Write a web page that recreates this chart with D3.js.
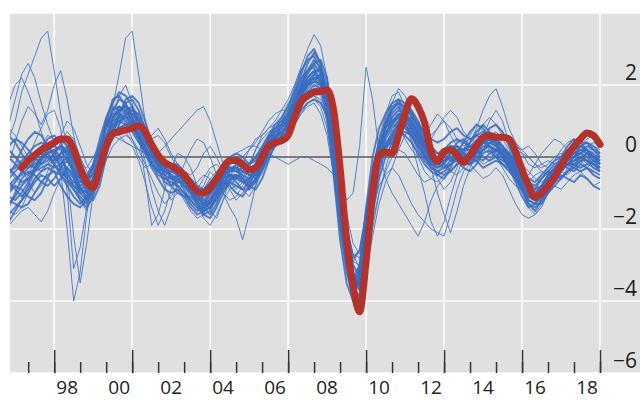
<!DOCTYPE html>
<html><head><meta charset="utf-8">
<script src="https://cdn.jsdelivr.net/npm/d3@7"></script>
<style>html,body{margin:0;padding:0;background:#fff;}svg{display:block;}</style>
</head><body>
<svg id="c" width="640" height="400"></svg>
<script>
// quarterly series, blue start 1996.25, red start 1996.75
const blueStart = 1996.25;
const redStart = 1996.75;
const red = [-0.3, -0.1,0.05,0.2,0.3, 0.4,0.5,0.5,0.2, -0.3,-0.7,-0.85,-0.3, 0.3,0.65,0.7,0.75, 0.8,0.86,0.7,0.35, 0.05,-0.15,-0.25,-0.36, -0.5,-0.75,-0.95,-1.0, -0.85,-0.6,-0.3,-0.1, -0.1,-0.2,-0.35,-0.3, 0.0,0.3,0.4,0.45, 0.6,1.1,1.55,1.7, 1.8,1.82,1.86,1.3, -0.3,-2.3,-3.6,-4.3, -2.9,-1.0,0.05,0.14, 0.1,0.6,1.2,1.62, 1.4,0.95,0.15,-0.12, 0.15,0.2,0.05,-0.15, 0.05,0.33,0.55,0.6, 0.55,0.55,0.5,0.15, -0.35,-0.8,-1.12,-1.0, -0.8,-0.55,-0.25,0.05, 0.3,0.5,0.67,0.6, 0.35];

const c01 = [-0.9,-0.7,-0.4, -0.2,0.0,0.1,0.0, -0.1,0.1,0.2,-0.2, -0.6,-0.9,-0.8,-0.1, 0.5,1.0,1.3,1.4, 1.2,0.9,0.5,0.1, -0.2,-0.4,-0.5,-0.6, -0.8,-1.0,-1.2,-1.1, -0.9,-0.6,-0.4,-0.3, -0.4,-0.5,-0.6,-0.4, -0.1,0.2,0.4,0.6, 0.9,1.4,1.9,2.3, 2.6,2.7,2.2,0.8, -1.0,-2.6,-3.5,-3.2, -1.6,-0.3,0.4,0.7, 0.9,1.1,1.3,1.2, 0.8,0.4,0.1,-0.1, 0.0,0.2,0.3,0.2, 0.4,0.6,0.5,0.3, 0.2,0.1,-0.1,-0.4, -0.7,-1.0,-1.1,-0.8, -0.5,-0.3,-0.1,0.0, 0.1,0.2,0.1,-0.1, -0.2];
const c02 = [-1.3,-1.1,-0.8, -0.6,-0.4,-0.3,-0.2, -0.3,-0.2,0.0,-0.4, -0.9,-1.1,-0.7,0.1, 0.8,1.3,1.6,1.5, 1.1,0.6,0.2,-0.2, -0.5,-0.6,-0.7,-0.8, -1.0,-1.3,-1.5,-1.3, -1.0,-0.8,-0.6,-0.5, -0.7,-0.9,-0.7,-0.3, 0.1,0.4,0.7,0.9, 1.2,1.6,2.1,2.6, 2.9,2.6,1.6,0.2, -1.4,-2.9,-3.8,-3.4, -2.0,-0.6,0.3,0.6, 1.0,1.2,1.0,0.8, 0.5,0.2,-0.1,-0.3, -0.2,0.1,0.4,0.5, 0.3,0.1,0.2,0.4, 0.5,0.3,0.0,-0.3, -0.6,-0.9,-1.2,-1.0, -0.7,-0.4,-0.2,-0.3, -0.4,-0.2,-0.3,-0.5, -0.6];
const c03 = [0.3,0.5,0.4, 0.2,0.0,-0.2,-0.1, 0.1,0.3,0.1,-0.3, -0.8,-1.2,-1.0,-0.4, 0.2,0.7,1.1,1.3, 1.4,1.1,0.7,0.3, 0.0,-0.3,-0.2,-0.4, -0.7,-0.9,-1.0,-1.2, -1.3,-1.0,-0.6,-0.2, 0.0,-0.2,-0.5,-0.6, -0.3,0.1,0.5,0.7, 0.8,1.2,1.6,1.9, 2.1,2.3,2.0,1.0, -0.6,-2.2,-3.2,-3.6, -2.4,-0.8,0.2,0.8, 1.2,1.4,1.1,0.7, 0.4,0.3,0.1,0.0, -0.2,-0.4,-0.2,0.1, 0.4,0.7,0.9,0.7, 0.4,0.0,-0.3,-0.5, -0.8,-1.1,-0.9,-0.6, -0.4,-0.5,-0.6,-0.4, -0.2,0.0,-0.1,-0.3, -0.4];
const c04 = [-1.6,-1.4,-1.2, -1.0,-0.7,-0.5,-0.6, -0.8,-0.6,-0.3,-0.5, -0.7,-0.6,-0.3,0.3, 0.9,1.2,1.2,1.0, 0.8,0.5,0.1,-0.3, -0.6,-0.9,-1.0,-0.9, -1.1,-1.4,-1.6,-1.5, -1.2,-0.9,-0.7,-0.8, -1.0,-1.1,-0.8,-0.4, 0.0,0.5,0.8,1.0, 1.3,1.8,2.2,2.4, 2.5,2.0,1.0,-0.4, -2.0,-3.2,-3.9,-3.0, -1.5,-0.5,0.1,0.3, 0.5,0.7,0.6,0.4, 0.1,-0.2,-0.4,-0.5, -0.4,-0.2,-0.1,-0.3, -0.4,-0.2,0.1,0.2, 0.0,-0.2,-0.4,-0.6, -0.9,-1.3,-1.4,-1.2, -0.9,-0.7,-0.5,-0.6, -0.7,-0.5,-0.6,-0.8, -0.9];
const c05 = [0.0,-0.2,-0.4, -0.5,-0.3,0.0,0.2, 0.3,0.2,-0.1,-0.4, -0.6,-0.5,-0.2,0.2, 0.6,0.9,1.0,0.9, 0.7,0.4,0.2,0.0, -0.2,-0.3,-0.3,-0.4, -0.5,-0.6,-0.8,-0.9, -0.7,-0.5,-0.4,-0.5, -0.6,-0.4,-0.2,0.0, 0.2,0.3,0.4,0.5, 0.7,1.0,1.3,1.5, 1.6,1.5,1.2,0.5, -0.8,-2.0,-2.8,-2.6, -1.6,-0.7,0.0,0.4, 0.6,0.8,0.9,0.7, 0.5,0.2,0.0,-0.2, -0.1,0.0,0.1,0.0, 0.1,0.3,0.4,0.3, 0.1,-0.1,-0.2,-0.3, -0.5,-0.7,-0.8,-0.6, -0.4,-0.2,-0.1,0.1, 0.2,0.3,0.2,0.0, -0.1];
const c06 = [-0.5,-0.2,0.2, 0.5,0.7,0.6,0.3, 0.0,-0.3,-0.6,-0.9, -1.1,-1.3,-0.9,0.0, 1.0,1.6,1.7,1.4, 1.0,0.6,0.2,-0.2, -0.4,-0.3,-0.5,-0.8, -1.0,-1.2,-1.4,-1.6, -1.5,-1.1,-0.6,-0.3, -0.3,-0.6,-0.9,-0.7, -0.2,0.3,0.6,0.8, 1.1,1.7,2.3,2.8, 3.0,2.6,1.5,-0.5, -2.3,-3.5,-4.0,-3.2, -1.4,0.0,0.8,1.2, 1.5,1.6,1.3,0.9, 0.6,0.3,-0.1,-0.5, -0.6,-0.3,0.1,0.4, 0.7,0.9,0.8,0.5, 0.3,0.2,0.0,-0.4, -0.9,-1.3,-1.5,-1.2, -0.8,-0.4,0.0,0.3, 0.5,0.4,0.2,0.0, -0.2];
const c07 = [-1.0,-0.8,-0.9, -1.1,-1.2,-1.0,-0.6, -0.2,0.1,0.3,0.0, -0.4,-0.6,-0.5,-0.1, 0.4,0.8,1.0,1.1, 1.1,0.8,0.4,0.1, -0.1,-0.3,-0.6,-0.7, -0.7,-0.8,-1.0,-1.4, -1.6,-1.3,-0.8,-0.4, -0.2,-0.3,-0.4,-0.2, 0.1,0.4,0.6,0.7, 0.9,1.3,1.8,2.1, 2.2,2.0,1.6,0.6, -1.1,-2.7,-3.4,-3.0, -1.9,-0.9,-0.1,0.3, 0.6,1.0,1.4,1.3, 1.0,0.6,0.3,0.1, 0.0,-0.1,0.0,0.2, 0.3,0.2,0.0,-0.1, 0.0,0.2,0.1,-0.2, -0.5,-0.9,-1.0,-0.9, -0.7,-0.6,-0.4,-0.2, 0.0,0.1,0.3,0.2, 0.1];
const c08 = [-1.8,-1.5,-1.2, -0.8,-0.4,-0.1,0.1, 0.2,0.0,-0.4,-0.8, -1.0,-0.9,-0.6,-0.2, 0.3,0.7,1.0,1.2, 1.3,1.2,0.8,0.3, -0.1,-0.5,-0.8,-1.0, -1.1,-1.1,-1.3,-1.5, -1.4,-1.1,-0.9,-0.7, -0.8,-0.9,-0.9,-0.6, -0.3,0.1,0.5,0.9, 1.2,1.5,1.9,2.2, 2.4,2.4,1.8,0.4, -1.4,-3.0,-3.7,-3.5, -2.2,-0.9,0.0,0.5, 0.8,1.0,0.9,0.6, 0.2,-0.1,-0.3,-0.4, -0.5,-0.4,-0.2,0.0, 0.1,0.0,-0.1,0.1, 0.2,0.0,-0.3,-0.7, -1.1,-1.4,-1.3,-1.0, -0.6,-0.3,-0.1,-0.2, -0.3,-0.1,0.1,0.0, -0.2];
const c09 = [-0.3,-0.5,-0.7, -0.6,-0.4,-0.2,0.0, 0.0,-0.2,-0.5,-0.7, -0.8,-0.7,-0.2,0.5, 1.1,1.5,1.8,1.7, 1.4,1.0,0.6,0.3, 0.1,-0.1,-0.3,-0.5, -0.6,-0.8,-1.1,-1.3, -1.1,-0.7,-0.3,0.0, 0.1,0.0,-0.2,-0.1, 0.2,0.6,0.9,1.1, 1.4,1.9,2.4,2.7, 2.8,2.4,1.4,0.1, -1.6,-3.0,-3.9,-3.8, -2.6,-1.2,0.0,0.9, 1.3,1.6,1.5,1.2, 0.9,0.7,0.5,0.4, 0.5,0.7,0.8,0.6, 0.5,0.6,0.7,0.6, 0.4,0.3,0.1,-0.2, -0.4,-0.6,-0.7,-0.5, -0.3,-0.1,0.0,0.2, 0.3,0.4,0.4,0.3, 0.1];
const c10 = [-1.2,-1.3,-1.4, -1.3,-1.0,-0.7,-0.5, -0.4,-0.5,-0.7,-0.9, -1.2,-1.4,-1.1,-0.5, 0.2,0.6,0.8,0.9, 1.0,0.9,0.6,0.2, -0.2,-0.5,-0.6,-0.6, -0.9,-1.2,-1.4,-1.4, -1.2,-1.0,-0.8,-0.6, -0.6,-0.7,-0.6,-0.5, -0.2,0.2,0.3,0.5, 0.8,1.1,1.5,1.8, 2.0,1.9,1.4,0.5, -0.9,-2.4,-3.3,-3.6, -2.8,-1.6,-0.6,0.0, 0.4,0.6,0.7,0.6, 0.4,0.0,-0.2,-0.3, -0.1,0.1,0.2,0.0, -0.2,-0.1,0.2,0.4, 0.3,0.1,-0.2,-0.5, -0.8,-1.2,-1.3,-1.3, -1.0,-0.8,-0.6,-0.4, -0.3,-0.4,-0.3,-0.4, -0.5];
const c11 = [0.6,0.4,0.1, -0.2,-0.3,-0.1,0.2, 0.4,0.5,0.3,-0.1, -0.5,-0.8,-0.6,-0.2, 0.3,0.8,1.2,1.5, 1.6,1.3,0.8,0.4, 0.1,-0.1,-0.2,-0.2, -0.4,-0.7,-0.9,-0.9, -0.8,-0.6,-0.5,-0.4, -0.3,-0.2,-0.3,-0.4, -0.1,0.3,0.6,0.7, 0.9,1.3,1.7,2.0, 2.3,2.5,2.1,1.1, -0.4,-2.0,-3.0,-3.3, -2.1,-0.6,0.5,1.0, 1.4,1.5,1.2,0.8, 0.5,0.1,-0.2,-0.2, 0.1,0.3,0.2,-0.1, -0.1,0.2,0.5,0.8, 0.9,0.7,0.3,-0.1, -0.4,-0.7,-0.9,-0.8, -0.6,-0.4,-0.3,-0.1, 0.1,0.3,0.4,0.2, 0.0];
const c12 = [-0.7,-0.9,-1.1, -0.9,-0.6,-0.4,-0.3, -0.4,-0.8,-1.1,-1.3, -1.4,-1.2,-0.8,-0.3, 0.2,0.5,0.9,1.2, 1.2,1.0,0.7,0.2, -0.3,-0.7,-0.8,-0.6, -0.6,-0.9,-1.2,-1.6, -1.7,-1.4,-1.0,-0.7, -0.5,-0.6,-0.8,-0.9, -0.6,-0.1,0.4,0.6, 1.0,1.5,2.0,2.4, 2.6,2.3,1.7,0.5, -1.2,-2.8,-3.6,-3.9, -2.9,-1.5,-0.4,0.2, 0.5,0.9,1.1,1.0, 0.7,0.4,0.0,-0.2, -0.3,-0.2,0.0,0.1, 0.0,-0.1,-0.3,-0.2, -0.1,-0.2,-0.3,-0.6, -0.9,-1.1,-1.2,-1.1, -0.8,-0.5,-0.3,-0.2, -0.2,-0.3,-0.2,-0.1, -0.3];
const c13 = [-0.8,-0.6,-0.5, -0.3,-0.2,0.0,0.1, 0.2,0.3,0.2,-0.1, -0.5,-0.8,-0.9,-0.4, 0.2,0.6,0.8,0.9, 0.9,0.8,0.5,0.1, -0.2,-0.4,-0.5,-0.6, -0.8,-1.0,-1.2,-1.2, -1.0,-0.8,-0.5,-0.3, -0.3,-0.4,-0.5,-0.4, -0.1,0.2,0.3,0.4, 0.6,1.0,1.4,1.7, 1.9,1.9,1.5,0.6, -0.9,-2.5,-3.4,-3.7, -2.5,-1.0,0.0,0.3, 0.4,0.7,1.0,1.1, 0.9,0.5,0.1,-0.2, -0.1,0.0,-0.1,-0.2, -0.1,0.1,0.3,0.3, 0.2,0.2,0.1,-0.1, -0.5,-0.9,-1.1,-1.0, -0.8,-0.6,-0.4,-0.2, 0.0,0.1,0.2,0.1, -0.1];
const c14 = [-1.4,-1.0,-0.6, -0.4,-0.5,-0.7,-0.8, -0.6,-0.3,-0.1,-0.3, -0.6,-1.0,-1.2,-0.8, 0.0,0.7,1.2,1.6, 1.7,1.5,1.0,0.4, -0.1,-0.3,-0.4,-0.3, -0.5,-0.8,-1.1,-1.3, -1.4,-1.2,-0.9,-0.6, -0.5,-0.6,-0.7,-0.7, -0.4,0.0,0.3,0.6, 1.0,1.4,1.8,2.1, 2.3,2.1,1.3,-0.2, -1.8,-3.1,-3.6,-3.1, -1.8,-0.6,0.3,0.8, 1.1,1.3,1.2,1.0, 0.7,0.3,0.0,-0.1, 0.1,0.3,0.3,0.1, 0.0,0.2,0.4,0.5, 0.4,0.3,0.1,-0.2, -0.6,-1.0,-1.2,-1.2, -1.0,-0.7,-0.4,-0.2, -0.1,0.0,-0.1,-0.2, -0.4];
const c15 = [-0.4,-0.3,-0.1, 0.1,0.3,0.4,0.3, 0.1,-0.1,-0.3,-0.6, -1.0,-1.2,-0.9,-0.2, 0.5,1.1,1.4,1.3, 1.0,0.7,0.3,-0.1, -0.4,-0.6,-0.6,-0.5, -0.6,-0.8,-1.1,-1.3, -1.2,-0.9,-0.5,-0.2, -0.1,-0.3,-0.4,-0.2, 0.1,0.5,0.7,0.8, 1.0,1.5,2.0,2.4, 2.7,2.5,1.8,0.7, -0.8,-2.4,-3.3,-3.5, -2.3,-0.9,0.2,0.9, 1.3,1.5,1.4,1.1, 0.7,0.4,0.2,0.1, 0.2,0.4,0.5,0.4, 0.3,0.4,0.6,0.6, 0.5,0.3,0.0,-0.3, -0.7,-0.9,-1.0,-0.9, -0.6,-0.4,-0.2,-0.1, 0.0,0.2,0.2,0.0, -0.1];
const c16 = [-1.1,-1.2,-1.0, -0.7,-0.3,0.0,0.1, -0.2,-0.5,-0.8,-1.1, -1.3,-1.1,-0.6,0.0, 0.6,1.0,1.1,1.1, 0.9,0.6,0.3,0.0, -0.3,-0.4,-0.4,-0.5, -0.7,-1.0,-1.3,-1.5, -1.4,-1.1,-0.7,-0.5, -0.5,-0.7,-0.8,-0.6, -0.2,0.2,0.5,0.7, 0.8,1.2,1.7,2.0, 2.2,2.2,1.7,0.6, -1.0,-2.6,-3.4,-3.3, -2.2,-1.0,-0.2,0.3, 0.7,0.9,0.8,0.6, 0.3,0.0,-0.3,-0.4, -0.3,-0.1,0.0,-0.1, -0.2,0.0,0.2,0.3, 0.2,0.0,-0.2,-0.5, -0.9,-1.2,-1.3,-1.1, -0.8,-0.5,-0.3,-0.2, -0.2,-0.1,-0.1,-0.2, -0.3];
const c17 = [0.2,0.0,-0.2, -0.3,-0.1,0.2,0.5, 0.6,0.4,0.0,-0.5, -0.9,-1.0,-0.6,0.1, 0.9,1.3,1.4,1.2, 0.9,0.5,0.1,-0.2, -0.4,-0.5,-0.4,-0.5, -0.7,-0.9,-1.0,-1.0, -0.9,-0.7,-0.5,-0.4, -0.4,-0.3,-0.2,0.0, 0.3,0.6,0.8,0.9, 1.1,1.4,1.8,2.2, 2.4,2.2,1.6,0.5, -1.1,-2.6,-3.5,-3.6, -2.4,-0.9,0.3,0.8, 1.0,1.1,0.9,0.6, 0.3,0.1,-0.1,-0.1, 0.1,0.2,0.0,-0.2, -0.2,0.1,0.4,0.5, 0.4,0.2,-0.1,-0.3, -0.6,-0.9,-1.0,-0.8, -0.5,-0.3,-0.2,0.0, 0.1,0.1,0.0,-0.2, -0.3];
const c18 = [-0.6,-0.4,-0.2, -0.1,0.0,0.1,0.0, -0.2,-0.4,-0.6,-0.8, -0.9,-0.8,-0.4,0.3, 0.8,1.1,1.3,1.4, 1.3,1.0,0.6,0.2, -0.1,-0.2,-0.3,-0.4, -0.6,-0.9,-1.2,-1.4, -1.3,-0.9,-0.5,-0.3, -0.3,-0.4,-0.5,-0.5, -0.2,0.2,0.5,0.7, 0.9,1.3,1.7,2.0, 2.1,2.0,1.5,0.3, -1.3,-2.8,-3.5,-3.4, -2.0,-0.7,0.2,0.6, 0.9,1.2,1.2,0.9, 0.6,0.3,0.0,-0.2, -0.1,0.1,0.2,0.2, 0.2,0.3,0.4,0.4, 0.3,0.1,-0.1,-0.4, -0.8,-1.1,-1.2,-1.0, -0.7,-0.5,-0.3,-0.2, -0.1,0.0,0.1,0.0, -0.2];

const t01 = [0.5,1.0,1.8, 2.3,2.8,3.3,3.5, 2.4,1.2,0.2,-0.6, -1.2,-1.5,-1.0,-0.3, 0.4,0.9,1.2,1.1, 0.8,0.5,0.3,0.5, 0.6,0.4,0.0,-0.3, -0.6,-0.8,-0.7,-0.5, -0.6,-0.9,-0.8,-0.5, -0.3,-0.5,-0.7,-0.5, -0.2,0.3,0.7,1.1, 1.5,1.7,1.9,2.0, 2.1,1.9,1.3,0.3, -1.0,-2.2,-2.9,-2.6, -1.5,-0.4,0.5,1.2, 1.7,1.8,1.4,0.8, 0.4,0.6,0.9,1.2, 1.0,0.6,0.3,0.0, -0.2,0.1,0.6,1.0, 1.3,1.0,0.4,-0.2, -0.6,-0.5,-0.2,0.1, 0.3,0.5,0.4,0.2, 0.0,-0.2,0.1,0.3, 0.2];
const t02 = [1.5,2.0,2.2, 1.8,1.3,0.7,0.2, -0.2,-0.5,-0.3,0.0, -0.2,-0.5,-0.6,-0.1, 0.5,1.4,2.3,3.3, 3.5,2.3,1.0,0.2, -0.3,-0.8,-1.2,-1.0, -0.7,-0.9,-1.1,-0.8, -0.4,-0.6,-1.0,-1.2, -1.1,-0.8,-0.5,-0.3, 0.0,0.2,0.3,0.4, 0.7,0.9,1.2,1.4, 1.5,1.2,0.6,-0.5, -1.5,-2.5,-3.1,-3.3, -2.5,-1.4,-0.8,-0.5, -0.3,0.2,0.6,0.9, 0.7,0.3,-0.2,-0.6, -0.9,-0.7,-0.3,0.2, 0.6,0.9,0.7,0.3, 0.0,-0.3,-0.6,-0.8, -0.9,-0.7,-0.5,-0.4, -0.5,-0.7,-0.6,-0.3, 0.0,0.3,0.4,0.2, 0.0];
const t03 = [-0.3,-0.6,-0.8, -0.5,-0.1,0.3,0.6, 0.5,-0.4,-2.0,-4.0, -3.2,-1.6,-0.5,0.2, 0.5,0.7,0.6,0.4, 0.3,-0.1,-0.7,-1.4, -1.9,-1.5,-0.9,-0.6, -0.8,-1.1,-1.2,-0.9, -0.6,-0.4,-0.6,-0.9, -1.2,-1.0,-0.6,-0.2, 0.2,0.5,0.8,1.0, 1.2,1.4,1.6,1.8, 1.9,1.7,1.2,0.2, -1.2,-2.4,-3.2,-3.5, -3.0,-2.0,-1.0,-0.4, 0.0,0.2,0.1,-0.2, -0.5,-0.7,-0.6,-0.4, -0.2,0.0,0.2,0.4, 0.5,0.4,0.2,0.1, 0.0,-0.1,-0.3,-0.6, -1.0,-1.4,-1.6,-1.4, -1.0,-0.6,-0.3,-0.1, 0.0,0.2,0.3,0.4, 0.3];
const t04 = [-1.5,-1.6,-1.4, -1.0,-0.6,-0.4,-0.2, -0.1,0.0,0.2,0.1, -0.2,-0.3,0.0,0.3, 0.5,0.6,0.5,0.4, 0.3,0.2,0.1,0.0, -0.1,-0.3,-0.6,-0.9, -1.2,-1.5,-1.7,-1.6, -1.2,-0.8,-0.4,-0.1, 0.1,0.2,0.3,0.3, 0.2,0.1,0.0,-0.1, -0.2,-0.1,0.0,0.0, -0.1,-0.2,-0.3,-0.5, -0.8,-1.2,-1.0,0.3, 2.5,1.6,0.2,-0.6, -1.0,-1.3,-1.6,-1.9, -2.2,-1.8,-1.2,-0.8, -0.6,-0.4,-0.5,-0.3, 0.0,0.2,0.5,0.8, 0.9,0.7,0.4,0.2, 0.1,0.0,-0.2,-0.4, -0.5,-0.3,0.0,0.2, 0.1,-0.1,-0.3,-0.5, -0.6];
const t05 = [-1.0,-0.7,-0.4, 0.0,0.4,0.8,1.2, 1.3,0.8,-1.0,-3.1, -2.5,-1.4,-0.8,-0.3, 0.1,0.5,0.9,1.1, 0.9,0.5,-0.1,-0.9, -1.5,-1.9,-1.4,-0.7, -0.2,0.2,0.5,0.4, 0.0,-0.5,-1.0,-1.4, -1.7,-2.3,-1.6,-0.8, -0.3,0.0,0.3,0.6, 0.9,1.2,1.5,1.7, 1.7,1.5,1.1,0.3, -0.9,-2.0,-2.7,-2.8, -2.4,-1.8,-1.0,-0.3, 0.3,0.8,1.2,1.3, 1.0,0.4,-0.3,-1.0, -1.6,-2.1,-1.5,-0.8, -0.3,0.1,0.4,0.6, 0.7,0.5,0.2,-0.2, -0.6,-0.8,-1.0,-1.1, -0.9,-0.5,-0.1,0.1, 0.2,0.0,-0.2,-0.3, -0.4];
const t06 = [0.8,0.6,0.3, 0.0,-0.3,-0.4,-0.2, 0.1,0.3,-0.5,-2.2, -3.5,-2.4,-1.0,0.0, 0.8,1.3,1.4,1.2, 0.9,0.7,0.4,0.2, 0.0,-0.1,-0.2,-0.4, -0.7,-1.0,-0.9,-0.6, -0.3,-0.2,-0.4,-0.7, -0.9,-0.7,-0.3,0.2, 0.6,0.8,0.9,1.0, 1.1,1.2,1.4,1.6, 1.7,1.6,1.0,0.0, -1.3,-2.6,-3.3,-3.4, -2.7,-1.6,-0.3,0.6, 1.1,1.3,1.0,0.4, -0.3,-1.0,-1.8,-2.2, -1.8,-1.1,-0.5,0.0, 0.3,0.5,0.4,0.2, 0.0,-0.2,-0.4,-0.3, -0.2,-0.4,-0.6,-0.7, -0.6,-0.4,-0.2,0.0, 0.2,0.3,0.5,0.6, 0.5];
const t07 = [-0.2,0.4,1.0, 1.4,1.2,0.9,1.3, 2.0,2.4,1.6,0.6, -0.2,-0.6,-0.3,0.4, 1.0,1.4,1.3,0.9, 0.5,0.0,-0.3,-0.2, 0.1,0.3,0.5,0.7, 0.9,1.1,1.3,1.4, 1.0,0.4,-0.2,-0.6, -0.8,-0.6,-0.2,0.2, 0.5,0.7,0.8,0.9, 1.0,1.3,1.7,2.0, 2.1,1.9,1.4,0.6, -0.5,-1.6,-2.4,-2.7, -2.2,-1.0,0.0,0.6, 0.9,0.8,0.5,0.2, 0.0,0.2,0.5,0.8, 1.0,0.8,0.5,0.3, 0.4,0.8,1.3,1.7, 1.9,1.4,0.8,0.4, 0.2,0.0,-0.2,-0.3, -0.2,0.0,0.1,0.0, -0.2,-0.4,-0.3,-0.1, 0.0];
const t08 = [0.9,1.6,2.3, 2.6,2.2,1.5,0.9, 0.4,0.6,1.0,0.8, 0.3,-0.2,-0.5,-0.2, 0.3,0.6,0.8,0.7, 0.4,0.2,0.3,0.6, 0.8,0.5,0.1,-0.2, -0.4,-0.5,-0.3,0.1, 0.3,0.0,-0.4,-0.8, -0.6,-0.2,0.2,0.5, 0.6,0.8,1.0,1.3, 1.6,2.0,2.5,3.0, 3.4,3.1,2.2,0.8, -0.7,-1.9,-2.7,-3.1, -2.3,-1.1,0.1,0.9, 1.5,1.9,1.7,1.3, 0.8,0.6,0.6,0.8, 1.1,1.3,1.1,0.7, 0.5,0.6,0.9,1.1, 0.9,0.6,0.4,0.3, 0.2,0.3,0.1,-0.2, -0.3,-0.1,0.2,0.4, 0.5,0.3,0.1,0.0, 0.1];
const t09 = [-1.9,-1.7,-1.5, -1.4,-1.6,-1.8,-1.5, -1.0,-0.6,-0.4,-0.6, -0.9,-1.0,-0.8,-0.5, -0.1,0.3,0.5,0.6, 0.5,0.2,-0.2,-0.6, -1.0,-1.3,-1.1,-0.8, -0.8,-1.0,-1.3,-1.7, -1.9,-1.6,-1.2,-0.9, -0.8,-0.9,-1.1,-0.8, -0.4,0.0,0.3,0.5, 0.6,0.9,1.2,1.5, 1.6,1.4,0.8,-0.3, -1.6,-2.7,-3.4,-3.7, -3.2,-2.2,-1.3,-0.7, -0.3,-0.5,-0.9,-1.3, -1.6,-1.8,-2.0,-2.1, -2.2,-1.6,-0.9,-0.4, -0.2,-0.4,-0.6,-0.5, -0.3,-0.5,-0.9,-1.3, -1.6,-1.7,-1.6,-1.3, -1.0,-0.8,-0.9,-0.7, -0.5,-0.4,-0.6,-0.8, -0.7];
const t10 = [0.2,0.0,-0.3, -0.7,-1.0,-0.8,-0.4, 0.0,0.4,0.7,0.5, 0.0,-0.4,-0.6,-0.3, 0.4,1.1,1.7,2.0, 1.5,0.6,-0.6,-1.9, -1.6,-0.9,-0.3,0.1, 0.0,-0.3,-0.8,-1.2, -1.5,-1.7,-1.2,-0.6, -0.2,0.0,0.2,0.4, 0.7,1.0,1.2,1.3, 1.3,1.5,1.8,2.1, 2.3,2.1,1.5,0.3, -1.2,-2.2,-2.9,-3.0, -2.1,-0.9,0.3,1.1, 1.5,1.4,1.0,0.5, 0.0,-0.4,-0.6,-0.7, -0.5,-0.2,0.1,0.2, 0.2,0.0,-0.2,-0.1, 0.2,0.5,0.6,0.4, 0.1,-0.2,-0.3,-0.2, -0.1,-0.2,-0.4,-0.5, -0.3,-0.1,0.0,-0.1, -0.2];

const coreSeries = [c01,c02,c03,c04,c05,c06,c07,c08,c09,c10,c11,c12,c13,c14,c15,c16,c17,c18];
const thinSeries = [t01,t02,t03,t04,t05,t06,t07,t08,t09,t10];

const yTicks = [2, 0, -2, -4, -6];
const yGrid = [4, 2, -2, -4, -6];
const minorYears = d3.range(1997, 2020);
const majorYears = [1998, 2001, 2004, 2007, 2010, 2013, 2016, 2019];
const labelYears = [1998, 2000, 2002, 2004, 2006, 2008, 2010, 2012, 2014, 2016, 2018];

const svg = d3.select('#c');
const L = 10, R = 600, T = 13, B = 373;
const x = d3.scaleLinear().domain([1996.3, 2019]).range([L, R]);
const y = d3.scaleLinear().domain([-6, 4]).range([B, T]);

svg.append('rect').attr('x', L).attr('y', T).attr('width', 640 - L).attr('height', B - T).attr('fill', '#e0e0e0');

svg.append('g').selectAll('line').data(yGrid).join('line')
  .attr('x1', L).attr('x2', 640).attr('y1', d => y(d)).attr('y2', d => y(d))
  .attr('stroke', '#fff').attr('stroke-width', 1.5);
svg.append('g').selectAll('line').data(majorYears).join('line')
  .attr('x1', d => x(d)).attr('x2', d => x(d)).attr('y1', T).attr('y2', B)
  .attr('stroke', '#fff').attr('stroke-width', 1.5);

svg.append('line').attr('x1', L).attr('x2', R).attr('y1', y(0)).attr('y2', y(0))
  .attr('stroke', '#5a5a5a').attr('stroke-width', 1.6);

// ticks (bottom, pointing up into the panel)
const axMinor = d3.axisTop(x).tickValues(minorYears).tickSize(11).tickFormat('');
const gMin = svg.append('g').attr('transform', `translate(0,${B})`).call(axMinor);
const axMajor = d3.axisTop(x).tickValues(majorYears).tickSize(23).tickFormat('');
const gMaj = svg.append('g').attr('transform', `translate(0,${B})`).call(axMajor);
[gMin, gMaj].forEach(g => { g.select('.domain').remove(); g.selectAll('line').attr('stroke', '#333').attr('stroke-width', 1.5); });

// x labels (centred mid-year)
svg.append('g').selectAll('text').data(labelYears).join('text')
  .attr('x', d => x(d + 0.5)).attr('y', 394)
  .attr('text-anchor', 'middle')
  .attr('font-family', 'Open Sans, sans-serif').attr('font-size', 19).attr('fill', '#222')
  .text(d => String(d % 100).padStart(2, '0'));

// y labels on the right
svg.append('g').selectAll('text').data(yTicks).join('text')
  .attr('x', 637).attr('y', d => y(d) - 5)
  .attr('text-anchor', 'end')
  .attr('font-family', 'Open Sans, sans-serif').attr('font-size', 21).attr('fill', '#222')
  .text(d => d < 0 ? '\u2212' + Math.abs(d) : String(d));

svg.append('clipPath').attr('id', 'clip').append('rect')
  .attr('x', L).attr('y', T).attr('width', R - L + 1).attr('height', B - T);

const blueLine = d3.line().x((d, i) => x(blueStart + i * 0.25)).y(d => y(d));
const gData = svg.append('g').attr('clip-path', 'url(#clip)');
gData.selectAll('path.thin').data(thinSeries).join('path').attr('class', 'thin')
  .attr('d', blueLine).attr('fill', 'none').attr('stroke', '#4477c6')
  .attr('stroke-width', 1.0).attr('stroke-opacity', 0.9).attr('stroke-linejoin', 'round');
gData.selectAll('path.core').data(coreSeries).join('path').attr('class', 'core')
  .attr('d', blueLine).attr('fill', 'none').attr('stroke', '#3a6cbf')
  .attr('stroke-width', 1.9).attr('stroke-opacity', 0.85).attr('stroke-linejoin', 'round');

const redLine = d3.line().x((d, i) => x(redStart + i * 0.25)).y(d => y(d)).curve(d3.curveMonotoneX);
svg.append('path').datum(red).attr('d', redLine).attr('fill', 'none')
  .attr('stroke', '#b3322c').attr('stroke-width', 7)
  .attr('stroke-linejoin', 'round').attr('stroke-linecap', 'round');
</script>
</body></html>
